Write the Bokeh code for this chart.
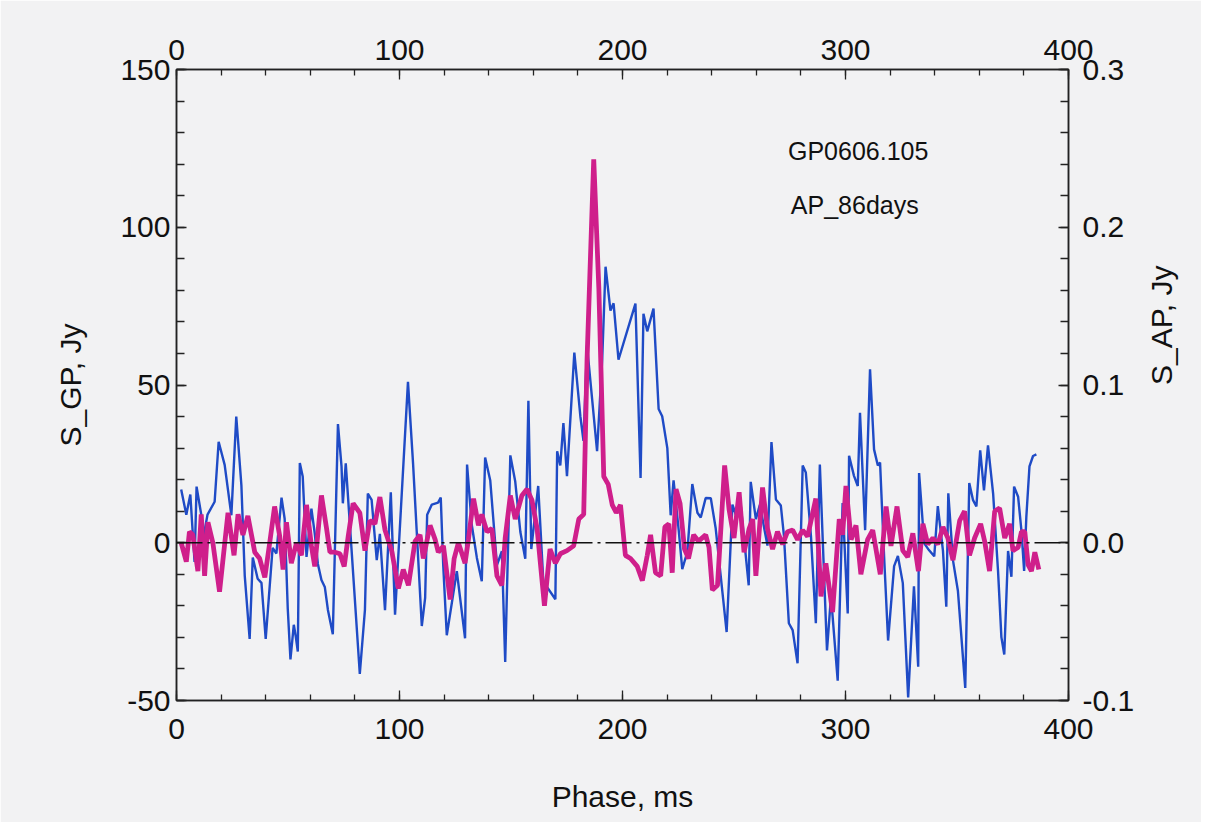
import math
from bokeh.plotting import figure
from bokeh.models import Range1d, LinearAxis, FixedTicker, Span, Label, PrintfTickFormatter
from bokeh.embed import file_html
from bokeh.resources import INLINE

# ---- data ----
gp_t = [2.1, 4.4, 6.2, 8.1, 9.0, 11.1, 11.7, 13.9, 17.1, 18.9, 21.6, 24.6, 26.8, 29.1, 30.6, 32.8, 34.2, 36.4, 38.1, 40.0,
        43.1, 44.8, 47.1, 48.5, 49.9, 51.1, 52.6, 53.5, 54.4, 55.3, 56.6, 58.3, 60.5, 62.0, 63.4, 65.0, 66.5, 67.9, 70.1, 72.4,
        74.0, 74.6, 75.9, 78.5, 82.2, 84.5, 85.8, 87.5, 89.8, 91.2, 93.5, 96.1, 98.0, 103.8, 106.1, 107.7, 110.0, 111.5, 112.4, 114.5,
        117.3, 118.5, 119.6, 121.2, 125.7, 129.4, 130.3, 132.4, 134.7, 136.9, 138.4, 140.7, 143.7, 145.9, 147.4, 149.7, 151.9, 154.2, 156.4, 157.8,
        159.1, 162.2, 164.5, 169.9, 170.7, 172.1, 173.5, 175.1, 178.4, 181.1, 182.5, 184.1, 188.6, 190.9, 192.4, 194.6, 196.0, 198.2, 205.8, 208.1,
        209.4, 211.1, 213.9, 216.2, 217.8, 220.1, 221.6, 222.9, 225.2, 226.8, 229.1, 231.3, 233.6, 235.1, 237.3, 239.6, 241.8, 246.7, 249.3, 250.8,
        253.0, 256.6, 257.5, 259.8, 261.6, 265.0, 266.8, 268.8, 271.0, 272.4, 274.6, 276.3, 278.5, 280.8, 282.2, 284.5, 286.7, 288.5, 290.3, 291.7,
        293.5, 296.5, 298.7, 301.0, 301.6, 303.8, 305.5, 306.5, 308.8, 311.0, 312.8, 314.5, 315.5, 317.3, 319.1, 321.8, 323.5, 325.7, 328.1, 330.7,
        332.6, 333.0, 335.3, 337.5, 339.8, 341.4, 343.7, 345.2, 346.1, 348.2, 350.4, 353.7, 355.5, 357.2, 358.7, 360.4, 362.1, 363.9, 366.2, 368.4,
        369.9, 371.2, 372.9, 374.4, 375.6, 377.4, 378.9, 380.1, 381.1, 382.5, 384.1, 385.6]
gp_s = [16.9, 8.9, 15.3, -6.1, 17.8, 8.9, 0.3, 8.9, 13.0, 32.0, 24.7, 8.7, 40.0, 18.2, -10.4, -30.5, -4.7, -11.4, -12.7, -30.5,
        -1.6, -3.4, 14.3, 7.6, -21.0, -37.0, -26.0, -29.8, -34.5, 25.3, 21.0, -4.5, 10.8, 2.9, -6.7, -11.8, -14.0, -21.3, -29.0, 37.6,
        24.2, 12.5, 25.2, -2.2, -41.6, -21.3, 15.6, 13.6, -5.5, 2.8, -21.4, 16.0, -22.8, 51.0, 24.9, 3.9, -26.4, -17.5, 8.9, 12.1,
        12.7, 14.3, -7.0, -29.3, -9.0, -30.3, 24.8, 5.7, -4.8, -12.2, 27.0, 19.7, -7.1, -2.7, -37.8, 27.7, 19.4, 3.4, -5.1, 45.0,
        -2.0, 18.0, -12.3, -17.9, 29.0, 24.5, 37.9, 21.1, 60.3, 40.1, 32.3, 62.5, 29.0, 58.1, 87.5, 73.6, 75.9, 58.0, 75.8, 20.5,
        72.6, 67.0, 74.2, 42.4, 40.1, 30.0, 8.7, 19.8, 4.0, -8.4, -2.8, 18.6, 9.5, 8.0, 14.2, 14.1, 4.5, -28.3, 12.1, 8.9,
        12.1, -13.5, 19.3, 7.5, 12.0, -0.9, 31.9, 13.7, 11.8, 2.2, -25.5, -27.7, -38.2, 24.5, 22.3, 2.2, -25.5, 24.8, -8.6, -34.1,
        -16.9, -43.7, 12.6, -22.4, 27.6, 21.2, 18.0, 41.2, 4.0, 55.0, 29.6, 24.5, 25.4, -4.2, -31.0, -7.4, -4.2, -12.8, -49.0, -13.8,
        -39.3, 22.1, -0.2, -2.4, -4.3, 11.6, -2.5, -20.3, 15.7, -5.6, -15.2, -46.0, 18.9, 13.5, 11.5, 29.3, 16.6, 30.9, 15.6, -8.9,
        -29.9, -35.4, -2.6, -10.8, 17.8, 14.6, 3.8, -8.9, 8.3, 24.2, 27.5, 28.0]

ap_t = [2.1, 4.4, 5.8, 7.3, 9.6, 11.1, 12.6, 14.1, 16.3, 19.3, 23.1, 25.8, 27.6, 29.8, 32.0, 35.1, 37.3, 39.6, 41.8, 44.0,
        46.3, 47.8, 49.3, 51.5, 53.8, 56.0, 58.3, 60.5, 62.0, 65.0, 67.3, 68.8, 71.0, 73.3, 75.2, 77.0, 79.2, 82.2, 84.5, 86.7,
        89.0, 91.2, 93.5, 96.5, 99.5, 101.7, 104.0, 107.0, 109.2, 110.7, 113.7, 116.0, 117.4, 119.7, 122.7, 124.5, 126.4, 129.4, 130.9, 133.2,
        135.4, 136.9, 139.2, 141.4, 143.7, 145.9, 147.4, 149.7, 151.9, 154.9, 157.2, 159.4, 161.7, 165.0, 167.5, 169.9, 172.1, 175.1, 178.1, 180.4,
        182.6, 184.1, 187.1, 189.4, 191.6, 193.6, 195.4, 197.2, 199.1, 201.3, 203.6, 206.6, 208.9, 211.1, 212.6, 214.8, 217.1, 219.0, 220.8, 222.3,
        224.0, 225.8, 227.8, 229.6, 231.9, 234.1, 237.3, 238.8, 240.3, 242.6, 245.8, 247.8, 250.0, 252.3, 254.5, 256.8, 258.4, 259.8, 262.8, 265.0,
        267.3, 269.5, 271.8, 274.0, 276.3, 278.5, 280.8, 283.0, 286.7, 289.0, 291.2, 294.2, 297.2, 298.7, 300.2, 302.5, 304.7, 306.9, 309.9, 312.2,
        315.6, 318.2, 320.4, 323.1, 325.7, 327.9, 330.2, 332.7, 334.7, 336.9, 339.2, 341.4, 343.7, 345.9, 348.2, 351.2, 353.4, 355.6, 357.9, 360.6,
        362.4, 364.6, 366.9, 369.1, 371.4, 373.6, 375.1, 377.4, 378.9, 380.4, 381.9, 383.4, 384.9, 386.7]
ap_s = [0.000, -0.012, 0.007, 0.005, -0.018, 0.018, -0.021, 0.013, 0.000, -0.031, 0.019, -0.008, 0.018, 0.005, 0.017, -0.006, -0.010, -0.022, 0.000, 0.023,
        0.004, -0.017, 0.013, -0.013, 0.000, -0.008, 0.024, -0.002, -0.015, 0.030, 0.009, -0.006, -0.006, -0.007, -0.015, 0.004, 0.025, 0.019, -0.005, 0.014,
        0.012, 0.029, 0.008, -0.005, -0.029, -0.017, -0.027, 0.001, 0.005, -0.010, 0.011, 0.002, -0.006, -0.002, -0.036, -0.010, 0.000, -0.013, 0.002, 0.028,
        0.011, 0.018, 0.007, 0.009, -0.021, -0.027, 0.003, 0.030, 0.015, 0.030, 0.034, 0.027, 0.009, -0.040, -0.004, -0.013, -0.007, -0.005, -0.002, 0.015,
        0.018, 0.116, 0.243, 0.161, 0.042, 0.037, 0.024, 0.019, 0.024, -0.008, -0.010, -0.015, -0.024, -0.008, 0.005, -0.019, -0.021, 0.010, 0.012, -0.019,
        0.034, 0.025, -0.004, -0.010, 0.005, 0.001, 0.005, -0.003, -0.030, -0.027, 0.049, 0.021, 0.003, 0.032, -0.006, 0.009, 0.015, -0.021, 0.035, 0.009,
        -0.004, 0.007, -0.001, 0.007, 0.008, 0.002, 0.008, 0.004, 0.028, -0.034, -0.013, -0.044, 0.015, 0.005, 0.036, 0.002, 0.011, -0.020, 0.002, 0.008,
        -0.020, 0.023, -0.002, 0.023, -0.005, -0.009, 0.006, -0.018, 0.012, -0.001, 0.003, -0.001, 0.010, 0.003, -0.011, 0.014, 0.020, -0.008, 0.003, 0.012,
        0.001, -0.018, 0.020, 0.022, 0.003, 0.012, -0.005, -0.003, 0.007, 0.007, -0.014, -0.018, -0.006, -0.017]

x_ticks = [0, 100, 200, 300, 400]
x_minor = [0, 20, 40, 60, 80, 100, 120, 140, 160, 180, 200, 220, 240, 260, 280, 300, 320, 340, 360, 380, 400]
gp_ticks = [-50, 0, 50, 100, 150]
gp_minor = [-50, -40, -30, -20, -10, 0, 10, 20, 30, 40, 50, 60, 70, 80, 90, 100, 110, 120, 130, 140, 150]
ap_ticks = [-0.1, 0.0, 0.1, 0.2, 0.3]
ap_minor = [-0.1, -0.08, -0.06, -0.04, -0.02, 0.0, 0.02, 0.04, 0.06, 0.08, 0.1, 0.12, 0.14, 0.16, 0.18, 0.2,
            0.22, 0.24, 0.26, 0.28, 0.3]

assert len(gp_t) == len(gp_s), (len(gp_t), len(gp_s))
assert len(ap_t) == len(ap_s), (len(ap_t), len(ap_s))

BG = "#f2f2f3"
INK = "#222222"
FONT = "Liberation Sans"

p = figure(width=1201, height=822, x_range=Range1d(0, 400), y_range=Range1d(-50, 150),
           output_backend="svg", toolbar_location=None,
           min_border_left=176, min_border_right=133, min_border_top=69, min_border_bottom=122,
           background_fill_color=BG, border_fill_color=BG)
p.extra_y_ranges = {"ap": Range1d(-0.1, 0.3)}
p.xgrid.visible = False
p.ygrid.visible = False
p.outline_line_color = INK
p.outline_line_width = 1.5

right = LinearAxis(y_range_name="ap")
p.add_layout(right, "right")
top = LinearAxis()
p.add_layout(top, "above")

bottom = p.below[0]
left = p.left[0]

for ax in (bottom, top, left, right):
    ax.major_tick_in = 10
    ax.major_tick_out = 0
    ax.minor_tick_in = 6
    ax.minor_tick_out = 0
    ax.axis_line_color = INK
    ax.axis_line_width = 1.5
    ax.major_tick_line_color = INK
    ax.minor_tick_line_color = INK
    ax.major_tick_line_width = 1.3
    ax.minor_tick_line_width = 1.3
    ax.major_label_text_font = FONT
    ax.major_label_text_font_size = "30px"
    ax.major_label_text_color = "#111111"
    ax.axis_label_text_font = FONT
    ax.axis_label_text_font_size = "30px"
    ax.axis_label_text_font_style = "normal"
    ax.axis_label_text_color = "#111111"

for ax in (bottom, top):
    ax.ticker = FixedTicker(ticks=x_ticks, minor_ticks=x_minor)
left.ticker = FixedTicker(ticks=gp_ticks, minor_ticks=gp_minor)
left.formatter = PrintfTickFormatter(format="%d")
left.minor_tick_in = 8
right.ticker = FixedTicker(ticks=ap_ticks, minor_ticks=ap_minor)
right.minor_tick_in = 8
right.formatter = PrintfTickFormatter(format="%.1f")

bottom.axis_label = "Phase, ms"
bottom.major_label_standoff = 18
bottom.axis_label_standoff = 38
top.major_label_standoff = 10
left.axis_label = "S_GP, Jy"
left.major_label_standoff = 6
left.axis_label_standoff = 30
right.axis_label = "S_AP, Jy"
right.axis_label_orientation = math.pi / 2
right.major_label_standoff = 14
right.axis_label_standoff = 24

p.line(gp_t, gp_s, line_color="#1f4bc6", line_width=2.4)
p.line(ap_t, ap_s, line_color="#cf1f8b", line_width=4.8, y_range_name="ap")

p.add_layout(Span(location=0, dimension="width", line_color="#111111", line_width=1.6,
                  line_dash="26 5 3 5"))

p.add_layout(Label(x=274.2, y=124.3, text="GP0606.105", text_font=FONT, text_font_size="25px",
                   text_baseline="middle", text_align="left", text_color="#111111"))
p.add_layout(Label(x=275.5, y=106.9, text="AP_86days", text_font=FONT, text_font_size="25px",
                   text_baseline="middle", text_align="left", text_color="#111111"))

open("out.html", "w").write(file_html(p, INLINE))
